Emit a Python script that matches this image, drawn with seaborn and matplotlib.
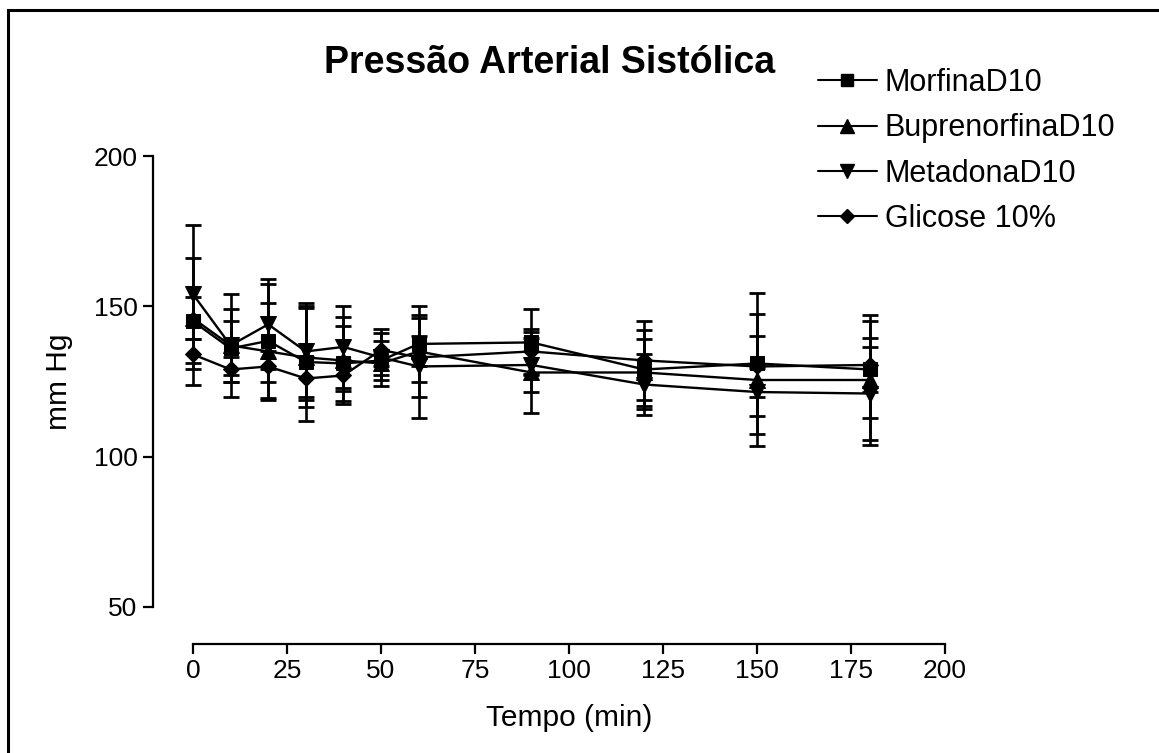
import matplotlib
matplotlib.use("Agg")
import matplotlib.pyplot as plt
from matplotlib.lines import Line2D
from matplotlib.patches import Rectangle
import pandas as pd
import seaborn as sns

# Time points (min) and group means / SEM (mm Hg)
tempo = [0, 10, 20, 30, 40, 50, 60, 90, 120, 150, 180]
grupos = ["MorfinaD10", "BuprenorfinaD10", "MetadonaD10", "Glicose 10%"]

morfina = [145, 136, 138.5, 131.5, 131, 132, 137.5, 138, 129, 131, 129]
morfina_sem = [21, 9, 19, 19.5, 12.5, 6.5, 12.5, 11, 13, 23.5, 16]

buprenorfina = [146, 137, 135, 133, 132, 131, 135, 128, 128, 125.5, 125.5]
buprenorfina_sem = [7, 12, 16, 16.5, 14.5, 4, 5, 13.5, 11, 22, 21.5]

metadona = [154, 137, 144, 135, 136.5, 133, 130, 130.5, 124, 121.5, 121]
metadona_sem = [23, 17, 15, 15, 13.5, 9.5, 17, 9, 10, 8, 15.5]

glicose = [134, 129, 130, 126, 127, 135.5, 133, 135, 132, 130, 130.5]
glicose_sem = [5, 4, 5, 7, 5, 5.5, 13, 7.5, 13, 10, 9]

y_ticks = [50, 100, 150, 200]
x_ticks = [0, 25, 50, 75, 100, 125, 150, 175, 200]

medias = [morfina, buprenorfina, metadona, glicose]
erros = [morfina_sem, buprenorfina_sem, metadona_sem, glicose_sem]
marcadores = ["s", "^", "v", "D"]
tamanhos = [10, 11, 11, 8]

df = pd.concat(
    [pd.DataFrame({"tempo": tempo, "pas": m, "sem": e, "grupo": g})
     for g, m, e in zip(grupos, medias, erros)],
    ignore_index=True,
)

sns.set_style("ticks")
plt.rcParams["font.family"] = ["Liberation Sans", "DejaVu Sans"]
plt.rcParams["text.color"] = "black"
plt.rcParams["axes.labelcolor"] = "black"
plt.rcParams["xtick.color"] = "black"
plt.rcParams["ytick.color"] = "black"

W, H = 1159, 753
fig = plt.figure(figsize=(W / 100, H / 100), dpi=100)
ax = fig.add_axes([193 / W, 146 / H, 752 / W, 451 / H])

handles = []
for g, mk, ms in zip(grupos, marcadores, tamanhos):
    sub = df[df["grupo"] == g]
    ax.errorbar(sub["tempo"], sub["pas"], yerr=sub["sem"], fmt="none",
                ecolor="black", elinewidth=1.9, capsize=5.5, capthick=2.0,
                clip_on=False, zorder=2)
    sns.lineplot(data=sub, x="tempo", y="pas", ax=ax, color="black",
                 marker=mk, markersize=ms, markeredgecolor="black",
                 linewidth=1.7, estimator=None, clip_on=False, zorder=3,
                 legend=False)
    handles.append(Line2D([], [], color="black", lw=1.5, marker=mk,
                          markersize=ms - 1, markeredgecolor="black", label=g))

ax.set_xlim(0, 200)
ax.set_ylim(50, 200)
ax.set_xticks(x_ticks)
ax.set_yticks(y_ticks)
ax.tick_params(axis="both", labelsize=19, length=7.2, width=1.6,
               direction="out", pad=4, color="black", labelcolor="black")

sns.despine(ax=ax)
ax.spines["left"].set_position(("outward", 28.8))
ax.spines["bottom"].set_position(("outward", 26.6))
ax.spines["left"].set_bounds(50, 200)
ax.spines["bottom"].set_bounds(0, 200)
for s in ("left", "bottom"):
    ax.spines[s].set_linewidth(1.6)
    ax.spines[s].set_color("black")

ax.set_xlabel("Tempo (min)", fontsize=21.5)
ax.set_ylabel("mm Hg", fontsize=21.5)
ax.xaxis.set_label_coords(0.5, -0.214)
ax.yaxis.set_label_coords(-0.16, 0.5)

fig.text(550 / W, 1 - 73 / H, "Pressão Arterial Sistólica", ha="center",
         va="baseline", fontsize=27, fontweight="bold", color="black")

fig.legend(handles=handles, loc="upper left",
           bbox_to_anchor=(818 / W, 1 - 68 / H), bbox_transform=fig.transFigure,
           frameon=False, fontsize=22, handlelength=1.93, handletextpad=0.26,
           labelspacing=0.5, borderpad=0, borderaxespad=0)

fig.patches.append(Rectangle((8 / W, -0.1), 1.2, 1 - 10 / H + 0.1,
                             transform=fig.transFigure, fill=False,
                             edgecolor="black", linewidth=2.2))

fig.savefig("out.png", dpi=100, facecolor="white")
